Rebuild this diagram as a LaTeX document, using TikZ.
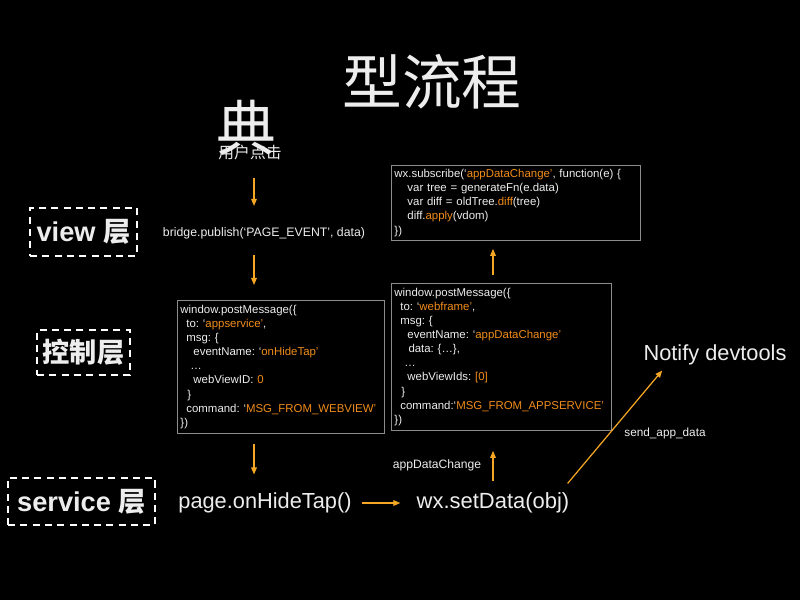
\documentclass[tikz,border=0pt]{standalone}
\usepackage{fontspec}
\setmainfont{Liberation Sans}
\newfontfamily\cjk{Noto Sans CJK SC}
\usetikzlibrary{arrows.meta,calc}
\definecolor{flowcol}{HTML}{F5A623}
\definecolor{codecol}{HTML}{F08C1A}
\definecolor{framecol}{HTML}{8C8C8C}
\definecolor{txtcol}{HTML}{EDEDED}
\newcommand\hl[1]{\textcolor{codecol}{#1}}
\newcommand\ind[1]{\hspace*{#1}}
\frenchspacing
\hyphenpenalty=10000
\exhyphenpenalty=10000

\begin{document}
\begin{tikzpicture}[x=0.02cm,y=-0.02cm,
  every node/.style={text=txtcol,inner sep=0pt},
  flow/.style={draw=flowcol,line width=0.7pt,-{Triangle[length=4pt,width=3.2pt]}},
  layer/.style={draw=white,dash pattern=on 4pt off 3pt,line width=0.8pt,font=\fontsize{15.5}{18}\selectfont\bfseries},
  codebox/.style={draw=framecol,line width=0.5pt,anchor=north west,align=left,inner xsep=0.06cm,inner ysep=0pt,
    font=\fontsize{6.5}{8}\selectfont}]
\def\lcol{254}
\def\rcol{493}

\fill[black] (0,0) rectangle (800,600);
\coordinate (lcol) at (\lcol,0);
\coordinate (rcol) at (\rcol,0);

% title
\node[font=\cjk\fontsize{34}{40}\selectfont] (title) at (432,82) {型流程};
\node[font=\cjk\fontsize{9}{10}\selectfont] (click) at (250,152) {用户点击};
\node[font=\cjk\fontsize{34}{40}\selectfont] (dian) at (246,128) {典};

% layers
\node[layer,minimum width=2.14cm,minimum height=0.96cm] (view) at (83.5,232) {view {\cjk 层}};
\node[layer,minimum width=1.86cm,minimum height=0.9cm] (ctrl) at (83.5,352.5) {\cjk 控制层};
\node[layer,minimum width=2.94cm,minimum height=0.94cm] (service) at (81.5,501.5) {service {\cjk 层}};

\node[font=\fontsize{7}{8}\selectfont] (bridge) at (264,233) {bridge.publish(‘PAGE\_EVENT’, data)};

% code boxes
\node[codebox,text width=4.02cm,minimum height=2.66cm] (wvmsg) at (177,300) {window.postMessage(\{\\
\ind{3.4pt}to: ‘\hl{appservice’},\\
\ind{3.4pt}msg: \{\\
\ind{7.4pt}eventName: ‘\hl{onHideTap’}\\
\ind{5.7pt}…\\
\ind{7.4pt}webViewID: \hl{0}\\
\ind{4pt}\}\\
\ind{3.4pt}command: ‘\hl{MSG\_FROM\_WEBVIEW’}\\
\})};
\node[codebox,text width=4.86cm,minimum height=1.5cm] (sub) at (391,165) {wx.subscribe(‘\hl{appDataChange’}, function(e) \{\\
\ind{7.4pt}var tree = generateFn(e.data)\\
\ind{7.4pt}var diff = oldTree.\hl{diff}(tree)\\
\ind{7.4pt}diff.\hl{apply}(vdom)\\
\})};
\node[codebox,text width=4.28cm,minimum height=2.94cm] (asmsg) at (391,283) {window.postMessage(\{\\
\ind{3.4pt}to: ‘\hl{webframe’},\\
\ind{3.4pt}msg: \{\\
\ind{7.4pt}eventName: ‘\hl{appDataChange’}\\
\ind{8pt}data: \{…\},\\
\ind{5.7pt}…\\
\ind{7.4pt}webViewIds: \hl{[0]}\\
\ind{4pt}\}\\
\ind{3.4pt}command:‘\hl{MSG\_FROM\_APPSERVICE’}\\
\})};

% service row
\node[font=\fontsize{12.4}{14}\selectfont] (hide) at (265,503) {page.onHideTap()};
\node[font=\fontsize{12.5}{14}\selectfont] (setdata) at (493,503) {wx.setData(obj)};
\node[font=\fontsize{12.4}{14}\selectfont] (notify) at (715,355) {Notify devtools};
\node[font=\fontsize{6.9}{8}\selectfont] (adc) at (437,465) {appDataChange};
\node[font=\fontsize{6.7}{8}\selectfont] (sad) at (665,433) {send\_app\_data};

% arrows
\draw[flow,shorten <=0.36cm,shorten >=0.42cm] (click.south -| lcol) -- (bridge.north -| lcol);
\draw[flow,shorten <=0.32cm,shorten >=0.3cm] (bridge.south -| lcol) -- (wvmsg.north -| lcol);
\draw[flow,shorten <=0.2cm,shorten >=0.36cm] (wvmsg.south -| lcol) -- (hide.north -| lcol);
\draw[flow,shorten <=0.2cm,shorten >=0.32cm] (hide) -- (setdata);
\draw[flow,shorten <=0.22cm,shorten >=0.4cm] (setdata.north -| rcol) -- (asmsg.south -| rcol);
\draw[flow,shorten <=0.16cm,shorten >=0.16cm] (asmsg.north -| rcol) -- (sub.south -| rcol);
\draw[flow] ($(setdata.north east)+(-2,-9)$) -- ($(notify.south west)+(19,5)$);
\end{tikzpicture}
\end{document}
